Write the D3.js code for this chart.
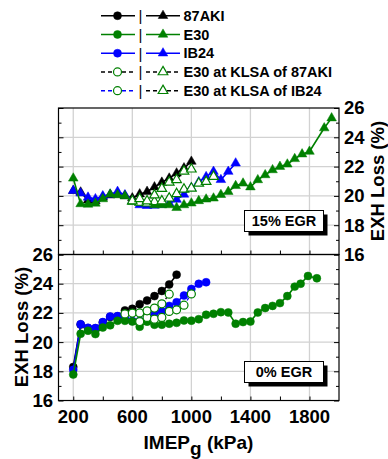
<!DOCTYPE html>
<html>
<head>
<meta charset="utf-8">
<script src="https://cdn.jsdelivr.net/npm/d3@7"></script>
<style>
  html, body { margin: 0; padding: 0; background: #fff; }
  svg { display: block; font-family: "Liberation Sans", Arial, sans-serif; }
</style>
</head>
<body>
<svg id="chart" width="388" height="459"></svg>
<script>
// ---- 0% EGR (circles) ----
const aki87_0_imep = [200, 250, 300, 350, 400, 450, 500, 550, 600, 650, 700, 750, 800, 850, 900];
const aki87_0_exh  = [18.3, 21.2, 20.95, 20.94, 21.34, 21.72, 21.75, 22.17, 22.28, 22.6, 22.85, 23.15, 23.5, 23.95, 24.62];

const ib24_0_imep = [200, 250, 300, 350, 400, 450, 500, 550, 600, 650, 700, 750, 800, 850, 900, 950, 1000, 1050, 1100];
const ib24_0_exh  = [18.1, 21.23, 20.98, 20.96, 21.37, 21.76, 21.78, 21.7, 21.45, 21.45, 21.75, 21.99, 22.1, 22.48, 22.73, 23.19, 23.64, 23.99, 24.1];

const e30_0_imep = [200, 250, 300, 350, 400, 450, 500, 550, 600, 650, 700, 750, 800, 850, 900, 950, 1000,
                    1050, 1100, 1150, 1200, 1250, 1300, 1350, 1400, 1450, 1500, 1550, 1600, 1650, 1700, 1740, 1790, 1850];
const e30_0_exh  = [17.78, 20.57, 20.78, 20.55, 21.0, 21.15, 21.46, 21.46, 21.41, 21.05, 21.4, 21.19, 21.19, 21.26, 21.32, 21.48, 21.47,
                    21.57, 21.87, 21.94, 22.05, 22.03, 21.26, 21.37, 21.41, 22.03, 22.33, 22.48, 22.67, 23.15, 23.8, 24.0, 24.53, 24.37];

const e30k87_0_imep = [550, 600, 650, 700, 750, 800, 850];
const e30k87_0_exh  = [21.93, 21.99, 22.0, 22.14, 22.33, 22.62, 23.28];

const e30kib_0_imep = [650, 700, 750, 800, 850, 900, 950, 1000];
const e30kib_0_exh  = [21.41, 21.69, 21.57, 21.69, 22.1, 22.21, 22.53, 23.3];

// ---- 15% EGR (triangles) ----
const aki87_15_imep = [200, 250, 300, 350, 400, 450, 500, 550, 600, 650, 700, 750, 800, 850, 900, 950, 1000];
const aki87_15_exh  = [20.35, 20.25, 19.7, 19.65, 19.9, 20.05, 20.1, 20.0, 19.85, 20.12, 20.29, 20.6, 20.92, 21.2, 21.55, 21.9, 22.35];

const ib24_15_imep = [200, 250, 300, 350, 400, 450, 500, 550, 600, 650, 700, 750, 800, 850, 900, 950, 1000, 1050, 1100, 1150, 1200, 1250, 1300];
const ib24_15_exh  = [20.36, 20.18, 19.9, 19.79, 19.99, 20.1, 20.29, 20.06, 19.65, 19.38, 19.33, 19.35, 19.4, 19.5, 19.75, 20.1, 20.55, 20.95, 21.3, 21.66, 21.1, 21.66, 22.23];

const e30_15_imep = [200, 250, 300, 350, 400, 450, 500, 550, 600, 650, 700, 750, 800, 850, 900, 950, 1000,
                     1050, 1100, 1150, 1200, 1250, 1300, 1350, 1400, 1450, 1500, 1550, 1600, 1650, 1700, 1750, 1800, 1900, 1950];
const e30_15_exh  = [21.2, 19.45, 19.42, 19.49, 19.79, 20.11, 20.06, 19.99, 19.6, 19.56, 19.56, 19.38, 19.38, 19.38, 19.19, 19.38, 19.5,
                     19.66, 19.77, 19.84, 20.08, 20.29, 20.69, 20.86, 20.6, 21.09, 21.43, 21.77, 22.0, 22.16, 22.53, 22.85, 23.03, 24.63, 25.31];

const e30k87_15_imep = [600, 650, 700, 750, 800, 850, 900, 950, 1000];
const e30k87_15_exh  = [19.65, 19.8, 19.65, 20.05, 20.5, 20.93, 21.1, 21.68, 21.82];

const e30kib_15_imep = [650, 700, 750, 800, 850, 900, 950, 1000, 1050, 1100, 1150];
const e30kib_15_exh  = [19.55, 19.5, 19.6, 19.65, 19.84, 20.14, 20.45, 20.52, 20.86, 20.97, 21.32];

// ---- axes / labels ----
const xTicksLabeled = [200, 600, 1000, 1400, 1800];
const xTicksAll = [200, 400, 600, 800, 1000, 1200, 1400, 1600, 1800];
const yTicksMajor = [16, 18, 20, 22, 24, 26];
const yTicksMinor = [17, 19, 21, 23, 25];
const yGrid = [18, 20, 22, 24];

const legendNames = ["87AKI", "E30", "IB24", "E30 at KLSA of 87AKI", "E30 at KLSA of IB24"];
const panelLabels = ["15% EGR", "0% EGR"];
const yTitle = "EXH Loss (%)";

const GREEN = "#008000", BLUE = "#0000ff", BLACK = "#000000";
const FONT = "'Liberation Sans', Arial, sans-serif";

const svg = d3.select("#chart");

const L = 58.5, R = 339;
const x = d3.scaleLinear().domain([100, 2000]).range([L, R]);
const panels = [
  { top: 108, bottom: 254.5 },
  { top: 254.5, bottom: 400.5 }
];
const yTop = d3.scaleLinear().domain([16, 26]).range([panels[0].bottom, panels[0].top]);
const yBot = d3.scaleLinear().domain([16, 26]).range([panels[1].bottom, panels[1].top]);

function drawFrame(y, p) {
  const g = svg.append("g");
  g.selectAll(".vg").data(xTicksLabeled).join("line")
    .attr("x1", d => x(d)).attr("x2", d => x(d))
    .attr("y1", p.top).attr("y2", p.bottom)
    .attr("stroke", "#d2d2d2").attr("stroke-width", 1.3);
  g.selectAll(".hg").data(yGrid).join("line")
    .attr("x1", L).attr("x2", R)
    .attr("y1", d => y(d)).attr("y2", d => y(d))
    .attr("stroke", "#d2d2d2").attr("stroke-width", 1.3);
  return g;
}

function styleAxis(sel) {
  sel.select(".domain").remove();
  sel.selectAll(".tick line").attr("stroke", "#000").attr("stroke-width", 1);
  sel.selectAll("text").attr("font-family", FONT).attr("font-weight", "bold")
    .attr("font-size", 18.5).attr("fill", "#000");
}

function drawAxes(y, p, labelSide) {
  const leftMajor = d3.axisLeft(y).tickValues(yTicksMajor).tickSize(-5).tickPadding(5.5)
    .tickFormat(labelSide === "left" ? d3.format("d") : () => "");
  svg.append("g").attr("transform", `translate(${L},0)`).call(leftMajor).call(styleAxis);
  svg.append("g").attr("transform", `translate(${L},0)`)
    .call(d3.axisLeft(y).tickValues(yTicksMinor).tickSize(-3).tickFormat(() => "")).call(styleAxis);
  const rightMajor = d3.axisRight(y).tickValues(yTicksMajor).tickSize(-5).tickPadding(5)
    .tickFormat(labelSide === "right" ? d3.format("d") : () => "");
  svg.append("g").attr("transform", `translate(${R},0)`).call(rightMajor).call(styleAxis);
  svg.append("g").attr("transform", `translate(${R},0)`)
    .call(d3.axisRight(y).tickValues(yTicksMinor).tickSize(-3).tickFormat(() => "")).call(styleAxis);
  svg.append("g").attr("transform", `translate(0,${p.bottom})`)
    .call(d3.axisBottom(x).tickValues(xTicksAll).tickSize(-4).tickFormat(() => "")).call(styleAxis);
}

function drawBorder(p) {
  svg.append("rect").attr("x", L).attr("y", p.top)
    .attr("width", R - L).attr("height", p.bottom - p.top)
    .attr("fill", "none").attr("stroke", "#000").attr("stroke-width", 1.2);
}

const tri = d3.symbol().type(d3.symbolTriangle).size(40);
const circ = d3.symbol().type(d3.symbolCircle).size(50);

function drawSeries(y, xs, ys, opts) {
  const pts = xs.map((v, i) => [v, ys[i]]);
  const line = d3.line().x(d => x(d[0])).y(d => y(d[1]));
  const g = svg.append("g");
  g.append("path").attr("d", line(pts))
    .attr("fill", "none").attr("stroke", opts.lineColor)
    .attr("stroke-width", opts.dashed ? 1.3 : 1.6)
    .attr("stroke-dasharray", opts.dashed ? "3,2" : null);
  g.selectAll("path.m").data(pts).join("path").attr("class", "m")
    .attr("transform", d => `translate(${x(d[0])},${y(d[1])})`)
    .attr("d", opts.shape === "tri" ? tri() : circ())
    .attr("fill", opts.open ? "#fff" : opts.color)
    .attr("stroke", opts.color)
    .attr("stroke-width", opts.open ? 1.2 : 0.5);
}

function panelLabel(p, text, cx, cy) {
  const w = 79, h = 21;
  svg.append("rect").attr("x", cx - w / 2 + 4).attr("y", cy - h / 2 + 4)
    .attr("width", w).attr("height", h).attr("fill", "#000");
  svg.append("rect").attr("x", cx - w / 2).attr("y", cy - h / 2)
    .attr("width", w).attr("height", h).attr("fill", "#fff")
    .attr("stroke", "#000").attr("stroke-width", 1);
  svg.append("text").attr("x", cx).attr("y", cy).attr("dy", "0.36em")
    .attr("text-anchor", "middle").attr("font-family", FONT)
    .attr("font-weight", "bold").attr("font-size", 14.5).text(text);
}

// ---- top panel: 15% EGR ----
drawFrame(yTop, panels[0]);
drawSeries(yTop, aki87_15_imep, aki87_15_exh, { color: BLACK, lineColor: BLACK, shape: "tri" });
drawSeries(yTop, ib24_15_imep, ib24_15_exh, { color: BLUE, lineColor: BLUE, shape: "tri" });
drawSeries(yTop, e30_15_imep, e30_15_exh, { color: GREEN, lineColor: GREEN, shape: "tri" });
drawSeries(yTop, e30kib_15_imep, e30kib_15_exh, { color: GREEN, lineColor: BLUE, shape: "tri", open: true, dashed: true });
drawSeries(yTop, e30k87_15_imep, e30k87_15_exh, { color: GREEN, lineColor: BLACK, shape: "tri", open: true, dashed: true });
drawAxes(yTop, panels[0], "right");
drawBorder(panels[0]);
panelLabel(panels[0], panelLabels[0], 284, 221);

// ---- bottom panel: 0% EGR ----
drawFrame(yBot, panels[1]);
drawSeries(yBot, aki87_0_imep, aki87_0_exh, { color: BLACK, lineColor: BLACK, shape: "circ" });
drawSeries(yBot, ib24_0_imep, ib24_0_exh, { color: BLUE, lineColor: BLUE, shape: "circ" });
drawSeries(yBot, e30_0_imep, e30_0_exh, { color: GREEN, lineColor: GREEN, shape: "circ" });
drawSeries(yBot, e30kib_0_imep, e30kib_0_exh, { color: GREEN, lineColor: BLUE, shape: "circ", open: true, dashed: true });
drawSeries(yBot, e30k87_0_imep, e30k87_0_exh, { color: GREEN, lineColor: BLACK, shape: "circ", open: true, dashed: true });
drawAxes(yBot, panels[1], "left");
drawBorder(panels[1]);
panelLabel(panels[1], panelLabels[1], 284, 372);

// x tick labels
svg.append("g").selectAll("text").data(xTicksLabeled).join("text")
  .attr("x", d => x(d)).attr("y", 423)
  .attr("text-anchor", "middle").attr("font-family", FONT)
  .attr("font-weight", "bold").attr("font-size", 18.5).text(d => d);

// x title with subscript
const xt = svg.append("text").attr("x", 198.5).attr("y", 449)
  .attr("text-anchor", "middle").attr("font-family", FONT)
  .attr("font-weight", "bold").attr("font-size", 19);
xt.append("tspan").text("IMEP");
xt.append("tspan").attr("dy", 6).text("g");
xt.append("tspan").attr("dy", -6).text(" (kPa)");

// y titles
svg.append("text").attr("transform", `translate(384,181) rotate(-90)`)
  .attr("text-anchor", "middle").attr("font-family", FONT)
  .attr("font-weight", "bold").attr("font-size", 18.5).text(yTitle);
svg.append("text").attr("transform", `translate(27.5,327) rotate(-90)`)
  .attr("text-anchor", "middle").attr("font-family", FONT)
  .attr("font-weight", "bold").attr("font-size", 18.5).text(yTitle);

// ---- legend ----
const legendRows = [
  { c1: BLACK, l1: BLACK, l2: BLACK, fill: BLACK, open: false, dashed: false },
  { c1: GREEN, l1: GREEN, l2: GREEN, fill: GREEN, open: false, dashed: false },
  { c1: BLUE, l1: BLUE, l2: BLUE, fill: BLUE, open: false, dashed: false },
  { c1: GREEN, l1: BLACK, l2: BLACK, fill: "#fff", open: true, dashed: true },
  { c1: GREEN, l1: BLUE, l2: BLACK, fill: "#fff", open: true, dashed: true }
];
const legY = d3.scalePoint().domain(d3.range(5)).range([15.7, 90.7]);
const lg = svg.append("g");
legendRows.forEach((r, i) => {
  const yy = legY(i);
  const dash = r.dashed ? "4,3" : null;
  lg.append("line").attr("x1", 101).attr("x2", 135).attr("y1", yy).attr("y2", yy)
    .attr("stroke", r.l1).attr("stroke-width", 1.6).attr("stroke-dasharray", dash);
  lg.append("path").attr("transform", `translate(117.5,${yy})`).attr("d", circ())
    .attr("fill", r.fill).attr("stroke", r.c1).attr("stroke-width", r.open ? 1.2 : 0.5);
  lg.append("text").attr("x", 140.5).attr("y", yy).attr("dy", "0.36em")
    .attr("text-anchor", "middle").attr("font-family", FONT).attr("font-size", 15).text("|");
  lg.append("line").attr("x1", 146).attr("x2", 180).attr("y1", yy).attr("y2", yy)
    .attr("stroke", r.l2).attr("stroke-width", 1.6).attr("stroke-dasharray", dash);
  lg.append("path").attr("transform", `translate(163,${yy})`).attr("d", tri())
    .attr("fill", r.fill).attr("stroke", r.c1).attr("stroke-width", r.open ? 1.2 : 0.5);
  lg.append("text").attr("x", 183.5).attr("y", yy).attr("dy", "0.36em")
    .attr("font-family", FONT).attr("font-weight", "bold").attr("font-size", 14.5)
    .text(legendNames[i]);
});
</script>
</body>
</html>
